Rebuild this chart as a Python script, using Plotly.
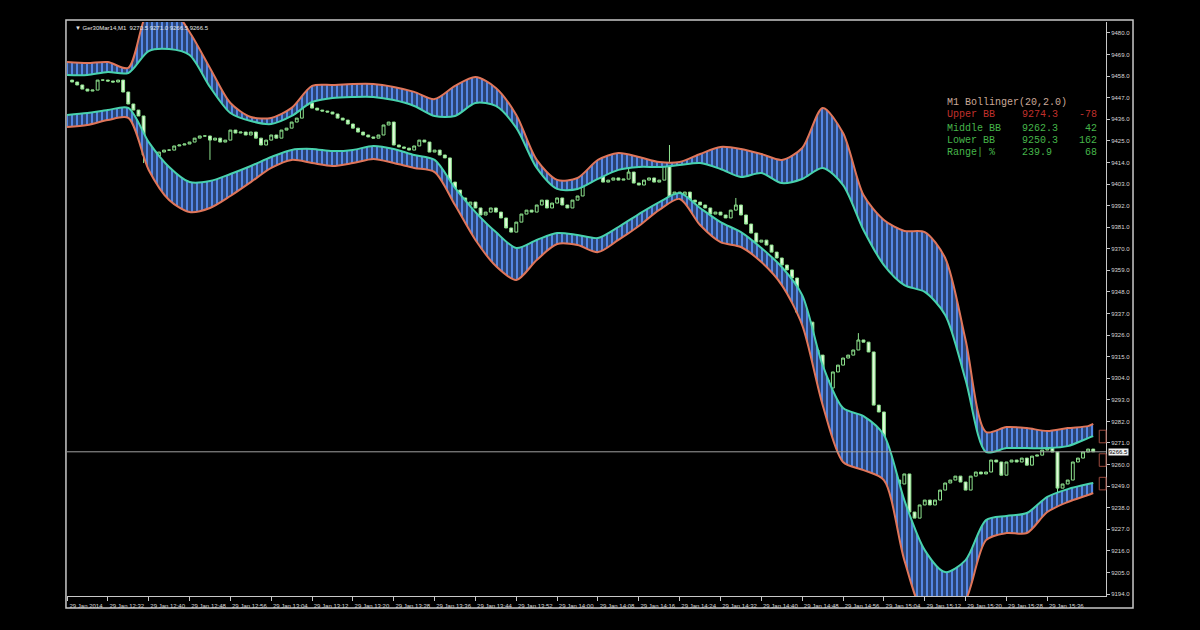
"""MT4-style M1 chart: Ger30Mar14 candles with hatched Bollinger envelopes."""

import plotly.graph_objects as go

# ---- data ------------------------------------------------------------------
# one bar per minute, bar 0 = 29 Jan 2014 12:24
tick_bars = list(range(0, 193, 8))
tick_text = [
    "29 Jan 2014", "29 Jan 12:32", "29 Jan 12:40", "29 Jan 12:48", "29 Jan 12:56",
    "29 Jan 13:04", "29 Jan 13:12", "29 Jan 13:20", "29 Jan 13:28", "29 Jan 13:36",
    "29 Jan 13:44", "29 Jan 13:52", "29 Jan 14:00", "29 Jan 14:08", "29 Jan 14:16",
    "29 Jan 14:24", "29 Jan 14:32", "29 Jan 14:40", "29 Jan 14:48", "29 Jan 14:56",
    "29 Jan 15:04", "29 Jan 15:12", "29 Jan 15:20", "29 Jan 15:28", "29 Jan 15:36",
]
price_ticks = [
    9194.0, 9205.0, 9216.0, 9227.0, 9238.0, 9249.0, 9260.0, 9271.0, 9282.0,
    9293.0, 9304.0, 9315.0, 9326.0, 9337.0, 9348.0, 9359.0, 9370.0, 9381.0,
    9392.0, 9403.0, 9414.0, 9425.0, 9436.0, 9447.0, 9458.0, 9469.0, 9480.0,
]

# candle closes, bars 1..201
closes = [
    9455.0, 9453.5, 9451.4, 9450.4, 9450.9, 9456.0, 9456.0, 9455.5, 9455.0, 9456.0,
    9449.9, 9443.8, 9440.7, 9437.7, 9417.8, 9419.3, 9417.3, 9419.3, 9420.3, 9420.3,
    9422.4, 9422.9, 9423.4, 9424.4, 9426.4, 9427.5, 9427.5, 9425.4, 9426.4, 9424.4,
    9425.4, 9430.5, 9429.0, 9429.5, 9428.0, 9429.5, 9426.4, 9422.9, 9425.4, 9428.0,
    9426.4, 9430.5, 9431.5, 9434.6, 9436.6, 9443.3, 9444.3, 9441.7, 9440.7, 9440.2,
    9439.7, 9438.7, 9436.6, 9435.6, 9433.6, 9431.5, 9429.5, 9428.0, 9427.0, 9426.4,
    9428.0, 9433.1, 9434.6, 9422.9, 9421.9, 9421.3, 9420.3, 9422.4, 9425.4, 9424.4,
    9419.3, 9420.3, 9417.8, 9416.3, 9404.0, 9399.9, 9395.9, 9392.3, 9393.8, 9390.8,
    9387.2, 9388.7, 9390.8, 9388.7, 9385.7, 9380.6, 9378.5, 9383.6, 9387.7, 9389.7,
    9388.7, 9392.3, 9394.8, 9390.8, 9393.3, 9395.9, 9392.3, 9390.8, 9394.8, 9396.9,
    9404.0, 9405.0, 9406.6, 9407.1, 9404.0, 9405.0, 9406.1, 9405.0, 9405.5, 9409.1,
    9403.5, 9402.5, 9405.0, 9406.1, 9404.0, 9405.0, 9412.7, 9395.9, 9398.9, 9397.4,
    9398.9, 9394.8, 9393.8, 9392.3, 9390.8, 9387.7, 9388.7, 9387.2, 9385.7, 9389.7,
    9392.3, 9387.2, 9382.6, 9378.0, 9373.4, 9374.4, 9371.9, 9368.3, 9365.3, 9361.7,
    9359.2, 9355.1, 9337.7, 9334.7, 9332.6, 9318.4, 9315.8, 9303.1, 9299.0, 9307.2,
    9310.7, 9314.3, 9315.8, 9318.4, 9323.5, 9322.4, 9317.4, 9290.3, 9286.8, 9259.7,
    9257.2, 9252.1, 9250.1, 9255.2, 9235.8, 9232.7, 9239.4, 9241.9, 9239.4, 9241.9,
    9247.0, 9250.6, 9252.1, 9254.1, 9251.1, 9247.0, 9254.1, 9256.2, 9255.2, 9256.2,
    9262.3, 9261.3, 9254.6, 9261.3, 9262.3, 9261.3, 9263.3, 9259.7, 9264.3, 9264.8,
    9267.4, 9268.4, 9266.4, 9248.0, 9250.1, 9252.1, 9261.3, 9263.3, 9266.4, 9267.9,
    9266.5,
]
first_open = 9456.0
# visible wicks beyond the bodies
wick_high = {46: 9445.5, 110: 9411.0, 118: 9422.9, 131: 9395.9, 155: 9327.0}
wick_low = {15: 9413.7, 28: 9415.3, 194: 9246.0}

# envelope lines, sampled every 4 bars
band_x = list(range(0, 201, 4)) + [201]
upper_outer = [
    9465.2, 9464.7, 9465.2, 9462.2, 9492.0, 9494.0, 9480.5, 9462.2, 9444.3, 9437.2,
    9436.7, 9441.8, 9453.0, 9453.5, 9454.0, 9454.0, 9452.5, 9450.0, 9446.3, 9453.0,
    9457.6, 9452.0, 9438.2, 9415.3, 9405.1, 9406.1, 9415.3, 9418.8, 9416.8, 9414.2,
    9414.2, 9418.3, 9421.9, 9420.9, 9418.3, 9415.3, 9421.4, 9441.8, 9429.0, 9397.4,
    9384.7, 9379.1, 9378.5, 9365.3, 9323.5, 9276.6, 9279.1, 9278.6, 9277.1, 9278.6,
    9279.6, 9280.7,
]
upper_inner = [
    9458.6, 9458.6, 9460.1, 9459.6, 9470.8, 9471.8, 9468.8, 9452.5, 9439.2, 9435.1,
    9433.6, 9437.7, 9444.8, 9446.9, 9447.4, 9447.4, 9445.8, 9442.8, 9437.7, 9437.7,
    9444.3, 9442.8, 9431.6, 9411.2, 9400.5, 9400.5, 9405.6, 9410.2, 9411.7, 9411.7,
    9412.7, 9413.7, 9410.7, 9406.6, 9408.6, 9403.5, 9405.6, 9411.2, 9402.5, 9379.6,
    9361.7, 9351.5, 9348.0, 9336.3, 9303.1, 9266.4, 9268.4, 9268.4, 9268.4, 9269.4,
    9273.5, 9274.5,
]
lower_inner = [
    9438.2, 9439.2, 9440.7, 9441.8, 9424.4, 9411.7, 9404.0, 9404.5, 9408.1, 9412.2,
    9416.8, 9420.4, 9420.9, 9419.8, 9420.4, 9422.4, 9420.9, 9417.8, 9415.3, 9401.0,
    9388.7, 9378.5, 9370.4, 9374.5, 9378.0, 9377.0, 9375.5, 9381.1, 9387.7, 9393.8,
    9398.4, 9390.8, 9383.6, 9378.5, 9370.4, 9360.7, 9346.4, 9310.7, 9288.8, 9284.7,
    9275.1, 9241.9, 9216.4, 9205.2, 9211.3, 9231.7, 9233.8, 9235.3, 9243.5, 9247.5,
    9250.1, 9250.6,
]
lower_outer = [
    9432.1, 9433.1, 9435.6, 9436.7, 9410.2, 9394.9, 9388.7, 9390.8, 9396.9, 9404.0,
    9411.2, 9415.3, 9413.7, 9412.2, 9413.7, 9415.8, 9413.7, 9411.2, 9409.1, 9392.3,
    9374.5, 9361.2, 9354.1, 9364.3, 9372.4, 9371.9, 9368.3, 9374.5, 9381.6, 9389.8,
    9395.4, 9382.1, 9373.4, 9370.9, 9363.2, 9351.5, 9331.1, 9290.4, 9261.3, 9257.2,
    9252.1, 9211.3, 9183.3, 9180.7, 9190.9, 9221.5, 9225.1, 9225.1, 9235.8, 9240.9,
    9244.5, 9245.5,
]

last_price = 9266.5
symbol_line = "\u25bc Ger30Mar14,M1  9270.5 9271.0 9266.5 9266.5"
panel_title = "M1 Bollinger(20,2.0)"
panel_labels = ["Upper BB", "Middle BB", "Lower BB", "Range| %"]
panel_values = ["9274.3", "9262.3", "9250.3", "239.9"]
panel_changes = ["-78", "42", "162", "68"]
marker_levels = [9274.3, 9262.3, 9250.3]  # small line-label brackets on the right edge

# ---- styling -----------------------------------------------------------------
ORANGE = "#e0765a"
CYAN = "#48d2ad"
HATCH = "#5486e4"
CANDLE = "#8fe48f"
FRAME = "#c8c8c8"
panel_colors = ["#c0302c", "#46b54a", "#46b54a", "#46b54a"]

candle_x = list(range(1, len(closes) + 1))
opens = [first_open] + closes[:-1]
highs = [max(o, c) for o, c in zip(opens, closes)]
lows = [min(o, c) for o, c in zip(opens, closes)]
for bar, value in wick_high.items():
    highs[bar - 1] = max(highs[bar - 1], value)
for bar, value in wick_low.items():
    lows[bar - 1] = min(lows[bar - 1], value)

fig = go.Figure()

line_kw = dict(shape="spline", smoothing=0.8, width=2)
# black strokes over a blue ground -> blue vertical hatching
hatch = dict(shape="|", fgcolor="black", bgcolor=HATCH, size=5, solidity=0.6)

fig.add_trace(go.Scatter(x=band_x, y=upper_inner, mode="lines", line=dict(color=CYAN, **line_kw),
                         hoverinfo="skip", showlegend=False))
fig.add_trace(go.Scatter(x=band_x, y=upper_outer, mode="lines", line=dict(color=ORANGE, **line_kw),
                         fill="tonexty", fillcolor=HATCH, fillpattern=hatch,
                         hoverinfo="skip", showlegend=False))
fig.add_trace(go.Scatter(x=band_x, y=lower_inner, mode="lines", line=dict(color=CYAN, **line_kw),
                         hoverinfo="skip", showlegend=False))
fig.add_trace(go.Scatter(x=band_x, y=lower_outer, mode="lines", line=dict(color=ORANGE, **line_kw),
                         fill="tonexty", fillcolor=HATCH, fillpattern=hatch,
                         hoverinfo="skip", showlegend=False))

fig.add_trace(go.Candlestick(
    x=candle_x, open=opens, high=highs, low=lows, close=closes,
    increasing=dict(line=dict(color=CANDLE, width=1), fillcolor="black"),
    decreasing=dict(line=dict(color=CANDLE, width=1), fillcolor="#e4fadc"),
    whiskerwidth=0, hoverinfo="skip", showlegend=False,
))

# current price line and its label on the price scale
fig.add_shape(type="line", xref="paper", x0=0, x1=1, yref="y", y0=last_price, y1=last_price,
              line=dict(color="#a0a0a0", width=1))
fig.add_annotation(xref="paper", x=1, yref="y", y=last_price, text=f"{last_price:.1f}",
                   showarrow=False, xanchor="left", xshift=2, bgcolor="#f2f2f2",
                   font=dict(family="Liberation Sans, Arial", size=6, color="black"),
                   borderpad=0)
for level in marker_levels:
    fig.add_shape(type="rect", xref="paper", x0=0.9935, x1=1.0, yref="y", y0=level - 3.2, y1=level + 3.2,
                  line=dict(color="#9c4a3e", width=1))

# outer window frame
fig.add_shape(type="rect", xref="paper", yref="paper", x0=-0.001, x1=1.026, y0=-0.021, y1=1.0035,
              line=dict(color=FRAME, width=1.5), layer="above")

fig.add_annotation(xref="paper", yref="paper", x=0.006, y=0.9895, text=symbol_line, showarrow=False,
                   xanchor="left", yanchor="middle",
                   font=dict(family="Liberation Sans, Arial", size=6, color="#e6e6e6"))

# indicator readout panel
row_y = [0.838, 0.815, 0.794, 0.773]
mono = "Liberation Mono, DejaVu Sans Mono, monospace"
fig.add_annotation(xref="paper", yref="paper", x=0.845, y=0.859, text=panel_title, showarrow=False,
                   xanchor="left", yanchor="middle", font=dict(family=mono, size=10, color="#c9a898"))
for label, value, change, color, y in zip(panel_labels, panel_values, panel_changes, panel_colors, row_y):
    fig.add_annotation(xref="paper", yref="paper", x=0.845, y=y, text=label, showarrow=False,
                       xanchor="left", yanchor="middle", font=dict(family=mono, size=10, color=color))
    fig.add_annotation(xref="paper", yref="paper", x=0.917, y=y, text=value, showarrow=False,
                       xanchor="left", yanchor="middle", font=dict(family=mono, size=10, color=color))
    fig.add_annotation(xref="paper", yref="paper", x=0.993, y=y, text=change, showarrow=False,
                       xanchor="right", yanchor="middle", font=dict(family=mono, size=10, color=color))

axis_font = dict(family="Liberation Sans, Arial", size=6, color="#d8d8d8")
# page body keeps its 8px margin, so the figure is 16px smaller than the window
fig.update_layout(
    width=1184, height=614,
    paper_bgcolor="black", plot_bgcolor="black",
    margin=dict(l=59, r=86, t=14, b=26),
    hovermode=False, showlegend=False, boxgap=0.2,
    xaxis=dict(range=[0, 203.5], tickvals=tick_bars, ticktext=tick_text, ticks="outside",
               ticklen=4, tickcolor=FRAME, tickfont=axis_font, ticklabelshift=19,
               showgrid=False, zeroline=False, showline=True, linecolor=FRAME,
               rangeslider=dict(visible=False), fixedrange=True),
    yaxis=dict(range=[9193.0, 9485.6], side="right", tickvals=price_ticks, tickformat=".1f",
               ticks="outside", ticklen=3, tickcolor=FRAME, tickfont=axis_font,
               showgrid=False, zeroline=False, showline=True, linecolor=FRAME, fixedrange=True),
)

fig.write_html("out.html", post_script="document.body.style.backgroundColor = 'black';")
